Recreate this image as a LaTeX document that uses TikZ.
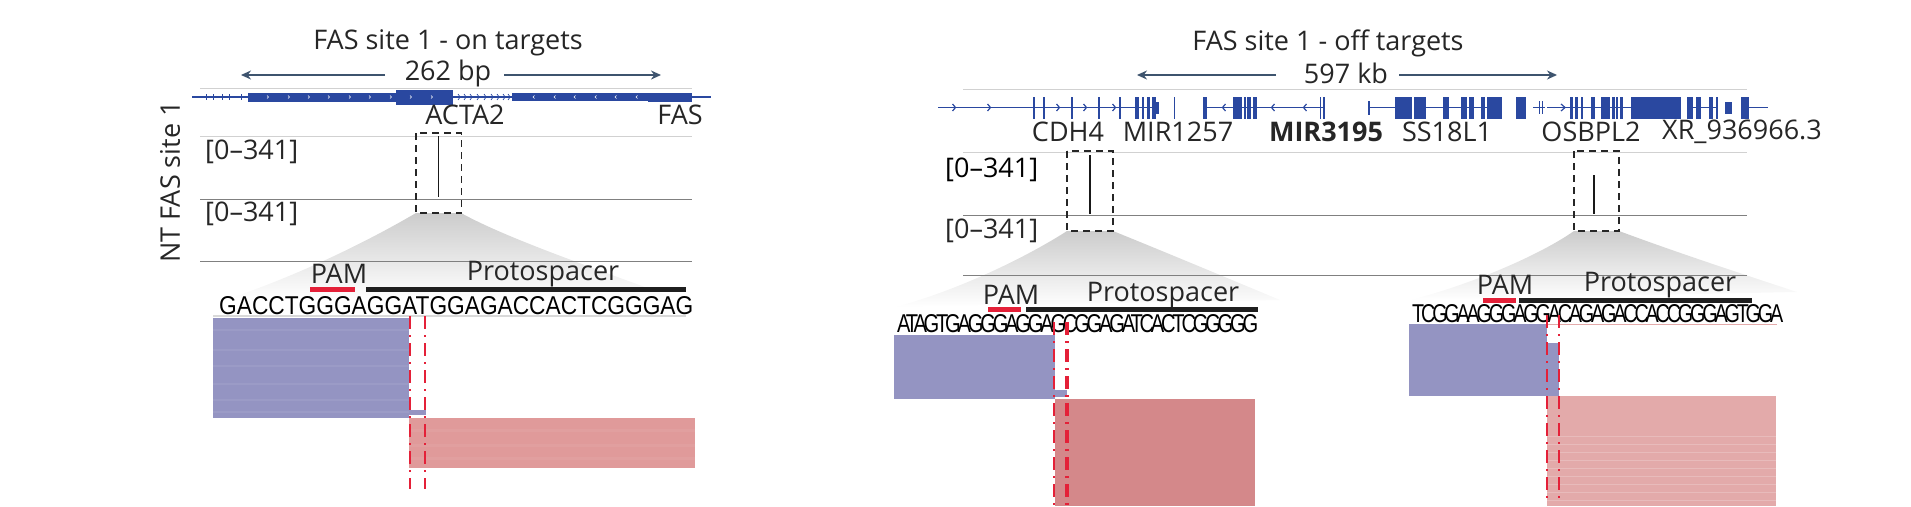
\documentclass[tikz,border=0pt]{standalone}
\usepackage{fontspec}
\setmainfont{Open Sans}
\newfontfamily\seqfont{Liberation Sans}
\newfontfamily\seqtight[LetterSpace=-16]{Liberation Sans}
\usetikzlibrary{arrows.meta,positioning,calc}
\definecolor{genreblue}{RGB}{42,72,160}
\definecolor{arrowslate}{RGB}{62,84,110}
\definecolor{readblue}{RGB}{148,148,194}
\definecolor{readred}{RGB}{224,154,154}
\definecolor{readdeep}{RGB}{212,136,138}
\definecolor{readpale}{RGB}{227,170,170}
\definecolor{cutred}{RGB}{228,32,56}
\tikzset{
  lab/.style={font=\fontsize{27}{27}\selectfont, text=black!85, inner sep=0pt},
  span/.style={-{Stealth[length=10pt,width=9pt]}, arrowslate, line width=1.6pt},
  trackline/.style={black!18, line width=1pt},
  baseline/.style={black!50, line width=1pt},
  peak/.style={black!90, line width=1.5pt},
  zoombox/.style={draw=black!85, dash pattern=on 7pt off 5pt, line width=1.5pt},
  cutline/.style={cutred, line width=2pt, dash pattern=on 13pt off 6pt on 2pt off 6pt},
  gene/.style={genreblue, line width=1.2pt},
  wedge/.style={top color=black!20, middle color=black!5, bottom color=white, draw=none},
}
% sequence squeezed to a given width
\newcommand{\seqline}[2]{\resizebox{#1}{18pt}{#2}}
% exon block: start, end, half height
\newcommand{\exon}[3]{\fill[genreblue] (#1,\tracky-#3) rectangle (#2,\tracky+#3);}
\begin{document}
\begin{tikzpicture}[x=1pt,y=-1pt]
  \useasboundingbox (0,0) rectangle (1911,506);

  % left panel, zoom wedge
  \shade[wedge]
    (416,213) .. controls (370,240) and (300,275) .. (225,300) -- (680,300)
    .. controls (600,270) and (510,240) .. (461,213) -- cycle;
  \draw[trackline] (200,88) -- (692,88);
  \draw[trackline] (200,136) -- (692,136);
  \draw[baseline] (200,199) -- (692,199);
  \draw[baseline] (200,261) -- (692,261);

  \node[lab] (titleon) at (448,43) {FAS site 1 - on targets};
  \node[lab] (sizeon) at (448,73) {262 bp};
  \draw[span] (385,75) -- (241,75);
  \draw[span] (504,75) -- (661,75);

  % left gene track
  \def\tracky{97}
  \draw[gene] (192,\tracky) -- (711,\tracky);
  \foreach \x in {206,213,222,229,241}
    \draw[gene, line width=.7pt] (\x,\tracky-3) -- (\x,\tracky+3);
  \foreach \x in {458,464,470,477,484,491,497,503,508}
    \draw[gene, line width=.7pt] (\x,\tracky-3) -- (\x+2,\tracky) -- (\x,\tracky+3);
  \exon{248}{396}{4.5}
  \exon{396}{453}{7.5}
  \exon{512}{648}{4}
  \exon{648}{692}{4.5}
  \foreach \x in {267,288,308,328,349,369,390,410,431}
    \draw[white, line width=.6pt] (\x,\tracky-1.5) -- (\x+1.5,\tracky) -- (\x,\tracky+1.5);
  \foreach \x in {533,554,574,595,615,636}
    \draw[white, line width=.6pt] (\x+1.5,\tracky-1.5) -- (\x,\tracky) -- (\x+1.5,\tracky+1.5);

  \node[lab] (actatwo) at (465,115) {ACTA2};
  \node[lab] (fas) at (680,115) {FAS};
  \node[lab, anchor=west] (rangeonA) at (205,152) {[0--341]};
  \node[lab, anchor=west] (rangeonB) at (205,214) {[0--341]};
  \node[lab, rotate=90] (ntfas) at (170,182) {NT FAS site 1};
  \draw[peak] (438.5,136) -- (438.5,197);
  \draw[zoombox] (416,133) rectangle (461.5,213);

  \node[lab] (pamon) at (339,274) {PAM};
  \node[lab] (protoon) at (543,274) {Protospacer};
  \fill[cutred] (310,286.5) rectangle (355,292);
  \fill[black!88] (365.5,286.5) rectangle (686,292);
  \node[lab, anchor=base west, text=black] (seqon) at (219,314) {\seqline{474pt}{\seqfont GACCTGGGAGGATGGAGACCACTCGGGAG}};

  \draw[black!15, line width=1.2pt] (213,316) -- (686,316);
  \fill[readblue] (213,318) rectangle (409,417.5);
  \foreach \y in {330,350,366,384,400,412}
    \draw[white, opacity=.07, line width=2pt] (213,\y) -- (409,\y);
  \fill[readblue] (409,410) rectangle (425.5,415);
  \fill[readred] (409,417.5) rectangle (695,467.5);
  \foreach \y in {430,445,458}
    \draw[white, opacity=.06, line width=3pt] (409,\y) -- (695,\y);
  \draw[cutline] (409.5,316) -- (409.5,489);
  \draw[cutline] (425,316) -- (425,489);

  % right panel, zoom wedges
  \shade[wedge]
    (1067,231) .. controls (1030,255) and (960,290) .. (895,307) -- (1280,300)
    .. controls (1220,275) and (1160,250) .. (1113,231) -- cycle;
  \shade[wedge]
    (1574,231) .. controls (1540,255) and (1470,285) .. (1410,300) -- (1797,292)
    .. controls (1730,270) and (1670,250) .. (1619,231) -- cycle;
  \draw[trackline] (963,89.5) -- (1747,89.5);
  \draw[trackline] (963,152) -- (1747,152);
  \draw[baseline] (963,215) -- (1747,215);
  \draw[baseline] (963,275.5) -- (1747,275.5);

  \node[lab] (titleoff) at (1328,43) {FAS site 1 - off targets};
  \node[lab] (sizeoff) at (1346,73) {597 kb};
  \draw[span] (1276,75) -- (1137,75);
  \draw[span] (1399,75) -- (1557,75);

  % right gene track
  \def\tracky{107.5}
  \draw[gene] (938,\tracky) -- (1158,\tracky);
  \draw[gene] (1203,\tracky) -- (1323,\tracky);
  \draw[gene] (1368,\tracky) -- (1395,\tracky);
  \draw[gene] (1420,\tracky) -- (1500,\tracky);
  \draw[gene] (1533,\tracky) -- (1545,\tracky);
  \draw[gene] (1547,\tracky) -- (1650,\tracky);
  \draw[gene] (1690,\tracky) -- (1718,\tracky);
  \draw[gene] (1741,\tracky) -- (1768,\tracky);
  \foreach \x in {954,989,1058,1085,1114}
    \draw[gene] (\x-1.5,\tracky-3.5) -- (\x+1.5,\tracky) -- (\x-1.5,\tracky+3.5);
  \foreach \x in {1224,1273,1305}
    \draw[gene] (\x+1.5,\tracky-3.5) -- (\x-1.5,\tracky) -- (\x+1.5,\tracky+3.5);
  \draw[gene] (1561,\tracky-3.5) -- (1565,\tracky) -- (1561,\tracky+3.5);
  \foreach \a/\b in {1032.5/1034.5,1042.5/1044.5,1070.5/1072.5,1098/1100,1118.5/1121,1135/1139,1142/1144,1147/1150,1152/1156,
    1202.5/1206.5,1233/1242,1244/1246,1247/1251,1252.5/1257,1319.5/1321,1323/1325,
    1395/1412,1414/1426,1443/1449,1461/1467,1469/1473.5,1481/1485,1487/1501.5,1516/1526,
    1570/1572.5,1575/1578,1581/1583,1591/1595,1601/1610,1612/1614.5,1616/1618,1620/1622.5,
    1631/1681,1687/1693,1696/1701,1709/1713,1716/1718,1741/1749}
    {\exon{\a}{\b}{11}}
  \exon{1156}{1158.5}{6}
  \exon{1368}{1369.5}{7}
  \exon{1725}{1732}{6}
  \draw[genreblue, line width=.8pt] (1174,97) -- (1174,118.5);
  \draw[genreblue, line width=.8pt] (1539,101) -- (1539,114);
  \draw[genreblue, line width=.8pt] (1542,101) -- (1542,114);

  \node[lab] (cdh) at (1068,132) {CDH4};
  \node[lab] (mirA) at (1178,132) {MIR1257};
  \node[lab, font=\fontsize{27}{27}\selectfont\bfseries] (mirB) at (1326,132) {MIR3195};
  \node[lab] (ssl) at (1447,132) {SS18L1};
  \node[lab] (osb) at (1591,132) {OSBPL2};
  \node[lab] (xr) at (1742,132) {XR\_936966.3};
  \node[lab, anchor=west, text=black] (rangeoffA) at (945,170) {[0--341]};
  \node[lab, anchor=west] (rangeoffB) at (945,231) {[0--341]};
  \draw[peak] (1090,155) -- (1090,214);
  \draw[peak] (1594,175) -- (1594,214);
  \draw[zoombox] (1067,151) rectangle (1113,231);
  \draw[zoombox] (1574,151) rectangle (1619,231);

  \node[lab] (pamoffA) at (1011,295) {PAM};
  \node[lab] (protooffA) at (1163,295) {Protospacer};
  \fill[cutred] (988,306.5) rectangle (1021,311.5);
  \fill[black!88] (1026,306.5) rectangle (1258,311.5);
  \node[lab, anchor=base west, text=black] (seqoffA) at (897,332) {\seqline{361pt}{\seqtight ATAGTGAGGGAGGAGCGGAGATCACTCGGGGG}};

  \node[lab] (pamoffB) at (1505,285) {PAM};
  \node[lab] (protooffB) at (1660,285) {Protospacer};
  \fill[cutred] (1483,297.5) rectangle (1516,302.5);
  \fill[black!88] (1519,297.5) rectangle (1752,302.5);
  \node[lab, anchor=base west, text=black] (seqoffB) at (1412,322) {\seqline{371pt}{\seqtight TCGGAAGGGAGGACAGAGACCACCGGGAGTGGA}};

  % middle reads
  \fill[readblue] (894,335) rectangle (1055,399);
  \fill[readblue] (1055,390) rectangle (1067,397);
  \fill[readdeep] (1055,399) rectangle (1255,506);
  \draw[cutline] (1054,322) -- (1054,506);
  \draw[cutline, line width=3.2pt] (1067,322) -- (1067,506);

  % far right reads
  \draw[readpale, line width=1pt] (1527,324) -- (1777,324);
  \fill[readblue] (1409,324) rectangle (1547,395.5);
  \fill[readblue] (1547,343) rectangle (1559,395.5);
  \fill[readpale] (1547,395.5) rectangle (1776,506);
  \foreach \y in {436,444,452,460,468,476,484,492,500}
    \draw[white, opacity=.2, line width=.8pt] (1547,\y) -- (1776,\y);
  \draw[cutline] (1547,315) -- (1547,500);
  \draw[cutline] (1559,315) -- (1559,500);
\end{tikzpicture}
\end{document}
